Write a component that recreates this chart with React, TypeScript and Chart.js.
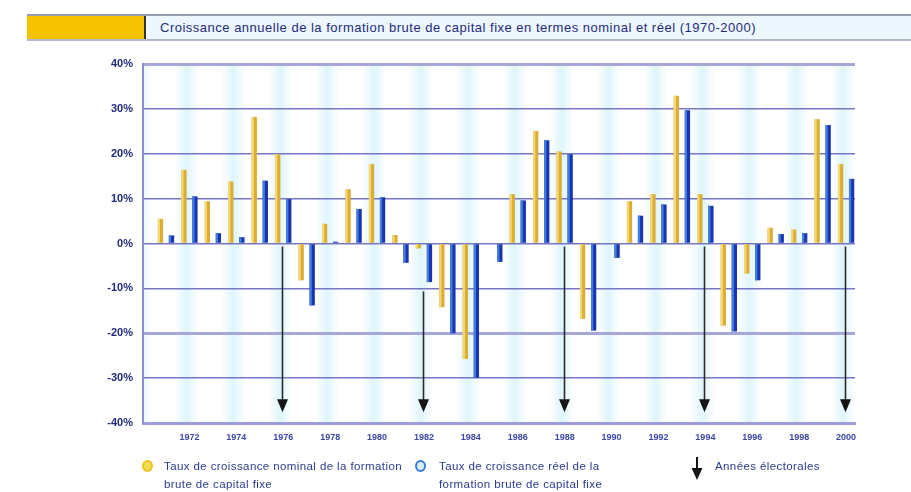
import React, { useEffect, useRef } from "react";
import { Chart, registerables } from "chart.js";

Chart.register(...registerables);

const years = [
  1971, 1972, 1973, 1974, 1975, 1976, 1977, 1978, 1979, 1980,
  1981, 1982, 1983, 1984, 1985, 1986, 1987, 1988, 1989, 1990,
  1991, 1992, 1993, 1994, 1995, 1996, 1997, 1998, 1999, 2000,
];
const nominal = [
  5.5, 16.4, 9.4, 13.8, 28.2, 19.9, -8.2, 4.4, 12.1, 17.7,
  1.9, -1.1, -14.2, -25.7, 0, 11.0, 25.1, 20.5, -16.8, 0,
  9.4, 11.0, 32.9, 11.0, -18.3, -6.7, 3.5, 3.1, 27.7, 17.7,
];
const real = [
  1.8, 10.5, 2.3, 1.4, 14.0, 9.9, -13.8, 0.4, 7.7, 10.3,
  -4.3, -8.6, -20.0, -29.9, -4.1, 9.6, 23.0, 19.9, -19.4, -3.2,
  6.2, 8.7, 29.7, 8.4, -19.6, -8.2, 2.1, 2.3, 26.4, 14.4,
];
const tickYears = [1972, 1974, 1976, 1978, 1980, 1982, 1984, 1986, 1988, 1990, 1992, 1994, 1996, 1998, 2000];
const stripeYears = [1970, 1972, 1974, 1976, 1978, 1980, 1982, 1984, 1986, 1988, 1990, 1992, 1994, 1996, 1998, 2000];
const electionYears = [1976, 1982, 1988, 1994, 2000];
const arrowStart = [0, -10, 0, 0, 0];
const arrowTip = -37.6;

const TITLE = "Croissance annuelle de la formation brute de capital fixe en termes nominal et réel (1970-2000)";
const FONT = "'Liberation Sans', Arial, sans-serif";

const stripePlugin = {
  id: "stripes",
  beforeDraw(chart: any) {
    const { ctx, chartArea, scales } = chart;
    const { top, bottom, left, right } = chartArea;
    ctx.save();
    ctx.beginPath();
    ctx.rect(left, top, right - left, bottom - top);
    ctx.clip();
    for (const yr of stripeYears) {
      const cx = scales.x.getPixelForValue(yr) - 3;
      const g = ctx.createLinearGradient(cx - 12, 0, cx + 12, 0);
      g.addColorStop(0, "rgba(222,245,251,0)");
      g.addColorStop(0.5, "rgba(222,245,251,1)");
      g.addColorStop(1, "rgba(222,245,251,0)");
      ctx.fillStyle = g;
      ctx.fillRect(cx - 12, top, 24, bottom - top);
    }
    ctx.restore();
  },
};

const highlightColors = ["#f5d874", "#3f80e0"];

const barLightPlugin = {
  id: "barLight",
  afterDatasetsDraw(chart: any) {
    const { ctx } = chart;
    ctx.save();
    chart.data.datasets.forEach((_ds: any, di: number) => {
      const meta = chart.getDatasetMeta(di);
      meta.data.forEach((bar: any) => {
        const { x, y, base, width } = bar.getProps(["x", "y", "base", "width"], true);
        const h = Math.abs(base - y);
        if (h < 0.5) return;
        ctx.fillStyle = highlightColors[di];
        ctx.fillRect(x - width / 2, Math.min(y, base), width * 0.42, h);
      });
    });
    ctx.restore();
  },
};

const arrowPlugin = {
  id: "arrows",
  afterDatasetsDraw(chart: any) {
    const { ctx, scales } = chart;
    ctx.save();
    electionYears.forEach((yr, i) => {
      const px = Math.round(scales.x.getPixelForValue(yr)) - 0.5;
      const y0 = scales.y.getPixelForValue(arrowStart[i]) + 3;
      const y1 = scales.y.getPixelForValue(arrowTip);
      ctx.strokeStyle = "#2b2b2b";
      ctx.lineWidth = 1.6;
      ctx.beginPath();
      ctx.moveTo(px, y0);
      ctx.lineTo(px, y1 - 10);
      ctx.stroke();
      ctx.fillStyle = "#151515";
      ctx.beginPath();
      ctx.moveTo(px - 5.5, y1 - 13);
      ctx.lineTo(px + 5.5, y1 - 13);
      ctx.lineTo(px, y1);
      ctx.closePath();
      ctx.fill();
    });
    ctx.restore();
  },
};

export default function App() {
  const ref = useRef<HTMLCanvasElement>(null);

  useEffect(() => {
    const canvas = ref.current;
    if (!canvas) return;
    Chart.defaults.font.family = FONT;
    const chart = new Chart(canvas, {
      type: "bar",
      data: {
        datasets: [
          {
            label: "Taux de croissance nominal",
            data: years.map((yr, i) => ({ x: yr, y: nominal[i] })),
            backgroundColor: "#dcad34",
            categoryPercentage: 0.94,
            barPercentage: 0.48,
          },
          {
            label: "Taux de croissance réel",
            data: years.map((yr, i) => ({ x: yr, y: real[i] })),
            backgroundColor: "#1a33ae",
            categoryPercentage: 0.94,
            barPercentage: 0.48,
          },
        ],
      } as any,
      options: {
        animation: false,
        responsive: false,
        maintainAspectRatio: false,
        layout: { padding: { left: 0, top: 64, right: 56, bottom: 38 } },
        plugins: {
          legend: { display: false },
          tooltip: { enabled: false },
          title: { display: false },
        },
        scales: {
          x: {
            type: "linear",
            min: 1970.02,
            max: 2000.38,
            offset: false,
            grid: { display: false, drawTicks: false },
            border: { display: true, color: "#9c9cd8", width: 3 },
            ticks: {
              padding: 9,
              color: "#3b48a8",
              font: { size: 9, weight: "bold" },
              autoSkip: false,
              maxRotation: 0,
              callback: (v: any) => String(v),
            },
            afterBuildTicks: (s: any) => {
              s.ticks = tickYears.map((v) => ({ value: v }));
            },
            afterFit: (s: any) => {
              s.height = 31;
            },
          },
          y: {
            min: -40,
            max: 40,
            ticks: {
              stepSize: 10,
              padding: 10,
              color: "#1f2a7c",
              font: { size: 11, weight: "bold" },
              callback: (v: any) => v + "%",
            },
            grid: {
              drawTicks: false,
              color: (c: any) => (c.tick && (c.tick.value === 40 || c.tick.value === -20) ? "#a6a6da" : "#7676c2"),
              lineWidth: (c: any) => (c.tick && (c.tick.value === 40 || c.tick.value === -20) ? 3 : 1.5),
            },
            border: { display: true, color: "#8c8cd0", width: 2 },
            afterFit: (s: any) => {
              s.width = 143;
            },
          },
        },
      } as any,
      plugins: [stripePlugin, barLightPlugin, arrowPlugin],
    });
    return () => chart.destroy();
  }, []);

  const legendText: React.CSSProperties = {
    position: "absolute",
    top: 457,
    fontSize: 11.5,
    letterSpacing: 0.4,
    lineHeight: "18px",
    color: "#2a3b8f",
    whiteSpace: "nowrap",
  };

  return (
    <div
      style={{
        position: "fixed",
        left: 0,
        top: 0,
        width: 911,
        height: 492,
        background: "#ffffff",
        fontFamily: FONT,
        overflow: "hidden",
      }}
    >
      <canvas ref={ref} width={911} height={492} style={{ position: "absolute", left: 0, top: 0, display: "block" }} />
      <div
        style={{
          position: "absolute",
          left: 27,
          top: 14,
          width: 884,
          height: 27,
          boxSizing: "border-box",
          borderTop: "2px solid #959cad",
          borderBottom: "2px solid #b0b8cc",
          background: "#eef7fd",
        }}
      >
        <div
          style={{
            position: "absolute",
            left: 0,
            top: 0,
            width: 117,
            height: "100%",
            background: "#f5c300",
            borderRight: "2px solid #333333",
          }}
        />
        <div
          style={{
            position: "absolute",
            left: 133,
            top: 0,
            lineHeight: "23px",
            fontSize: 13,
            letterSpacing: 0.5,
            color: "#1d2b7d",
            whiteSpace: "nowrap",
          }}
        >
          {TITLE}
        </div>
      </div>

      <div
        style={{
          position: "absolute",
          left: 142,
          top: 460,
          width: 7,
          height: 8,
          borderRadius: "50%",
          border: "2px solid #ecc21c",
          background: "#f4dc50",
        }}
      />
      <div style={{ ...legendText, left: 164 }}>
        Taux de croissance nominal de la formation
        <br />
        brute de capital fixe
      </div>
      <div
        style={{
          position: "absolute",
          left: 415,
          top: 460,
          width: 7,
          height: 8,
          borderRadius: "50%",
          border: "2px solid #3a7ad8",
          background: "#d8f0fa",
        }}
      />
      <div style={{ ...legendText, left: 439 }}>
        Taux de croissance réel de la
        <br />
        formation brute de capital fixe
      </div>
      <svg style={{ position: "absolute", left: 691, top: 457 }} width={12} height={24} viewBox="0 0 12 24">
        <line x1={6} y1={0} x2={6} y2={14} stroke="#151515" strokeWidth={2} />
        <polygon points="0.5,11 11.5,11 6,23" fill="#151515" />
      </svg>
      <div style={{ ...legendText, left: 715 }}>Années électorales</div>
    </div>
  );
}
